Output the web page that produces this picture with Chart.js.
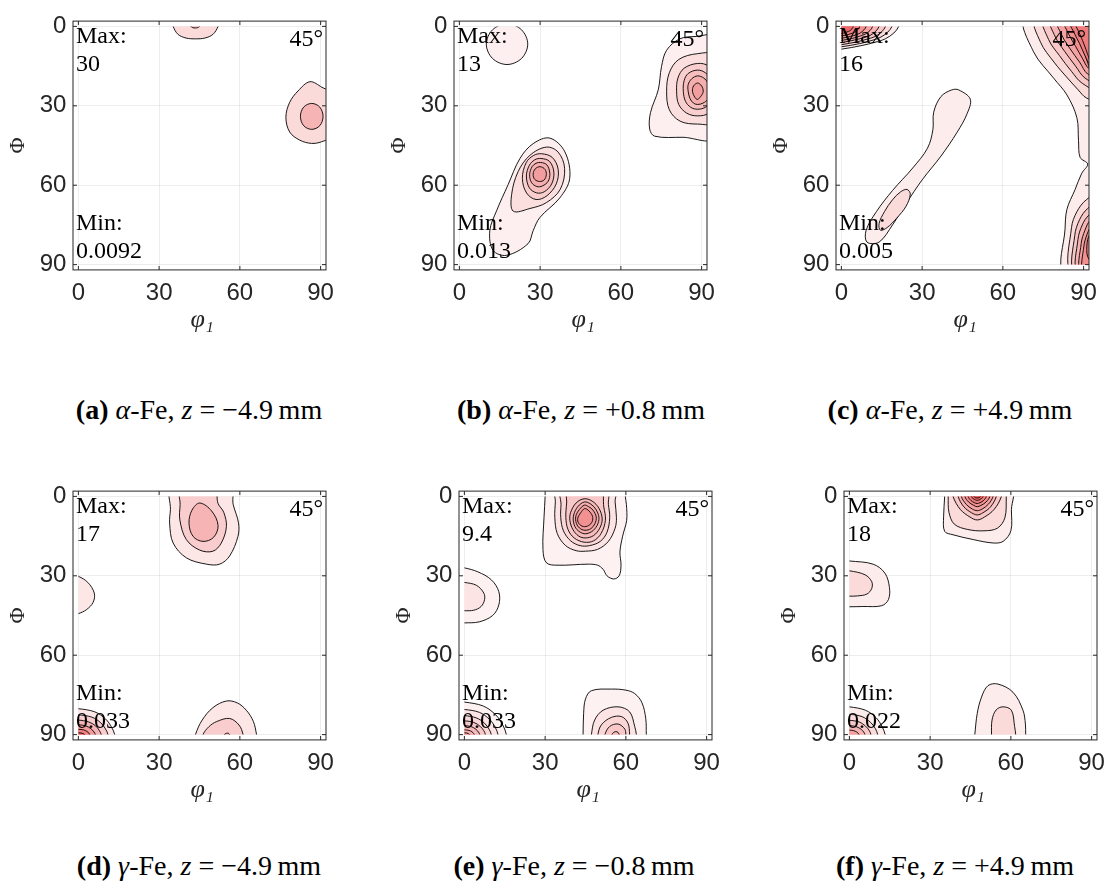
<!DOCTYPE html>
<html>
<head>
<meta charset="utf-8">
<script src="https://cdn.jsdelivr.net/npm/chart.js@4.4.1/dist/chart.umd.min.js"></script>
<style>
  body { margin: 0; background: #fff; width: 1106px; height: 886px; overflow: hidden; position: relative; }
  canvas { position: absolute; }
  .cap { position: absolute; width: 400px; text-align: center; font-family: "Liberation Serif", serif;
         font-size: 28px; line-height: 30px; color: #000; white-space: nowrap; }
</style>
</head>
<body>
<script>
// ODF sections at phi2 = 45 deg, six samples

const tickValues = [0, 30, 60, 90];
const panelNames = ["a", "b", "c", "d", "e", "f"];
const phases = ["α", "α", "α", "γ", "γ", "γ"];
const zValues = ["−4.9", "+0.8", "+4.9", "−4.9", "−0.8", "+4.9"];
const maxValues = ["30", "13", "16", "17", "9.4", "18"];
const minValues = ["0.0092", "0.013", "0.005", "0.033", "0.033", "0.022"];
const sectionLabel = "45°";

// contour rings: [level, [phi1, Phi, phi1, Phi, ...]]
const ringsA = [
  [1, [34.5,-3, 35.2,0, 37,3, 40,4.4, 43.5,4.7, 47,4.4, 50,3, 51.9,0, 52.5,-3]],
  [2, [41.5,-3, 41.8,0, 43.4,0.6, 45,0, 45.3,-3]],
  [1, [86,20.9, 81.6,24.4, 78.5,28.7, 77.1,34.3, 78.5,39.9, 82.3,43, 86.6,44.2, 90.3,43.6, 95,41, 95,26, 90.5,23]],
  [2, [86.7,29.1, 89.7,30.5, 90.9,34, 89.7,37.5, 86.7,38.9, 83.7,37.5, 82.5,34, 83.7,30.5]]
];
const ringsB = [
  [1, [17.7,-1, 23.1,1.3, 25.4,6.7, 23.1,12.1, 17.7,14.4, 12.3,12.1, 10,6.7, 12.3,1.3]],
  [1, [81.9,4.7, 77,9, 75.1,15.2, 73.9,23.9, 71,32.6, 70.7,38.8, 72.6,41.5, 83.1,41.9, 95,41.9, 95,4, 88,3.8]],
  [2, [88.5,10.3, 81.5,12.5, 78,17.5, 77,24.5, 78,31.5, 82,35.8, 88.5,36.9, 95,36, 95,11]],
  [3, [88.5,14, 83.5,15.8, 81.2,19.5, 80.7,24.5, 81.5,29.5, 84.5,32.8, 88.5,33.8, 92.5,32.8, 95,28, 95,20, 92.5,15]],
  [4, [88.5,16.5, 85,17.8, 83.5,20.5, 83.2,24.5, 84,28.3, 86,30.6, 88.5,31.3, 91.5,30.5, 93.5,28, 94.5,24.5, 93.5,20.5, 91.5,17.6]],
  [5, [88.5,18.7, 86.3,19.8, 85,22, 85,24.5, 85.7,27.3, 87,29, 88.5,29.5, 90.5,29, 92.3,27.5, 93,24.5, 92.3,21.3, 90.8,19.5]],
  [6, [88.5,21.4, 87,22.5, 86.6,24.5, 87.5,26.8, 88.5,27.6, 90,26, 90.6,24.5, 90,22.5]],
  [1, [33.6,42.2, 39.2,47.4, 41,57.4, 37.3,64.8, 29.9,72.2, 27.4,77.2, 25.5,82.1, 17.5,86.5, 12.5,84.6, 11.3,77.2, 13.8,69.7, 18.1,59.8, 22.5,49.9, 27.4,44.3]],
  [2, [32.3,45.6, 36.7,47.5, 39.1,53.6, 37.5,61.5, 32.3,66.6, 26.2,68.8, 20,69.8, 19.4,63.6, 21.8,54.9, 26.2,48.7]],
  [3, [30.5,48.1, 34.5,49.5, 36.7,54, 36,59.5, 32.5,64, 28.5,65.4, 25,63, 23.4,57.5, 24.8,51.5, 27.5,48.8]],
  [4, [30.3,49.9, 33.5,51, 35.1,55, 34.3,59.5, 31.5,62.5, 28.7,62.9, 26,61, 24.9,56.5, 26,52.5, 28,50.4]],
  [5, [30.2,51.4, 32.5,52.3, 33.6,55.5, 33,58.5, 30.8,60.3, 28.8,60.5, 26.8,59, 26.1,56, 27,53, 28.5,51.7]],
  [6, [30,53, 31.8,54, 32.3,56, 31.5,58, 29.8,58.6, 28,57.8, 27.4,55.8, 28.2,53.8]]
];
const ringsC = [
  [1, [-3,8.7, 0,8.6, 7.7,7.2, 12.5,6, 16.3,4.7, 19.5,2.5, 21.3,0, 22,-3, -3,-3]],
  [2, [-3,7.8, 0,7.7, 6.8,6.5, 11,5.4, 14.4,4.2, 17.2,2.2, 18.8,0, 19.4,-3, -3,-3]],
  [3, [-3,7, 0,6.9, 5.9,5.8, 9.6,4.8, 12.6,3.8, 15,2, 16.4,0, 17,-3, -3,-3]],
  [4, [-3,6.2, 0,6.1, 5,5.1, 8.2,4.3, 10.7,3.4, 12.8,1.8, 14,0, 14.5,-3, -3,-3]],
  [5, [-3,5.4, 0,5.3, 4.2,4.5, 6.8,3.7, 8.9,2.9, 10.6,1.6, 11.6,0, 12,-3, -3,-3]],
  [6, [-3,4.6, 0,4.5, 3.3,3.8, 5.4,3.2, 7,2.5, 8.4,1.3, 9.2,0, 9.5,-3, -3,-3]],
  [7, [-3,3.7, 0,3.6, 2.5,3.1, 4,2.6, 5.2,2, 6.2,1.1, 6.8,0, 7,-3, -3,-3]],
  [8, [-3,2.8, 0,2.7, 1.6,2.3, 2.6,1.9, 3.4,1.5, 4,0.8, 4.4,0, 4.6,-3, -3,-3]],
  [1, [43.6,24, 47.9,27.5, 46.7,33, 43,40, 37,49, 30,58, 24,67, 19,75, 14,81.5, 9.5,81.5, 9.2,77, 13,70, 19,62, 26.5,53.5, 32,46, 34,39, 34.3,32.4, 37,26.5, 41,24]],
  [2, [24.4,61.6, 25.6,63.4, 24,68, 20.5,72.5, 17,76, 14.5,77, 14,74.5, 16,70, 19,65.5, 22,62.5]],
  [1, [68.3,-3, 71.4,9.6, 78.9,19.6, 83.8,25.9, 87.5,34.5, 88.1,43.2, 88.7,49.5, 91.5,52, 89.3,55.5, 86.8,61.7, 83.8,69.1, 83.1,76.6, 82.5,93, 96,93, 96,-3]],
  [2, [72.1,-3, 74,6, 79,13.5, 84,19.5, 88,24, 91,27, 96,28, 96,-3]],
  [3, [75.2,-3, 77,5, 81,11, 85.5,17, 89.5,21.5, 96,24, 96,-3]],
  [4, [77.7,-3, 79.5,4, 83,9.5, 87,15, 90.5,19.5, 96,21.5, 96,-3]],
  [5, [80.1,-3, 82,3.5, 85,8.5, 88.5,13.5, 91.5,18, 96,19.5, 96,-3]],
  [6, [82.6,-3, 84.5,3, 87,7.5, 89.5,12, 92,16, 96,17.5, 96,-3]],
  [7, [84.5,-3, 86.5,2.5, 88.5,6.5, 90.5,11, 92.5,14.5, 96,15.5, 96,-3]],
  [2, [96,63, 91,65.5, 87.5,70, 85.5,76, 85.1,93, 96,93]],
  [3, [96,66.5, 91.5,68.8, 88.5,73, 86.7,79, 86.4,93, 96,93]],
  [4, [96,69.5, 92,71.3, 89.5,75, 87.9,80.5, 87.6,93, 96,93]],
  [5, [96,71.5, 92.5,73.2, 90.5,77, 89.1,82, 88.8,93, 96,93]],
  [6, [96,73.5, 93,75.2, 91.3,78.5, 90.1,83, 89.8,93, 96,93]],
  [7, [96,77, 92.5,78.3, 91.2,83, 92,88, 96,89]]
];
const ringsD = [
  [1, [34.6,-3, 34.2,5, 33.9,10.1, 35.2,17.6, 40.1,23.2, 47.6,25.6, 52.5,25.6, 56.2,22.5, 59.3,15.1, 59.5,10, 57.5,3, 56.5,-3]],
  [2, [38,-3, 37.8,3, 37.7,8.9, 40.1,16.3, 45.1,20.3, 50,20.7, 53.1,17.6, 55,11.4, 54,6, 51.9,2.7, 50.5,-3]],
  [3, [45.1,2.5, 49.5,5.5, 51.9,11, 50.2,15.5, 46.3,17, 42.6,15.1, 41.1,10.1, 42.2,5.2]],
  [1, [-3,29.5, 0,30.2, 3.5,32.5, 5.9,36.5, 5.5,40, 3,42.8, 0,44.3, -3,45]],
  [1, [-3,80.2, 0,80.2, 6.1,81.4, 10.1,84.1, 12.4,87.3, 13.5,90, 14,93, -3,93]],
  [2, [-3,82.5, 0,82.5, 5,83.4, 8.3,85.5, 10.1,87.9, 11,90, 11.4,93, -3,93]],
  [3, [-3,84.5, 0,84.5, 3.8,85.2, 6.4,86.7, 7.8,88.5, 8.5,90, 8.8,93, -3,93]],
  [4, [-3,86.3, 0,86.3, 2.8,86.7, 4.7,87.8, 5.8,89, 6.3,90, 6.5,93, -3,93]],
  [5, [-3,88, 0,88, 1.9,88.2, 3.2,88.8, 3.9,89.4, 4.2,90, 4.4,93, -3,93]],
  [6, [-3,89.3, 0,89.3, 1,89.4, 1.7,89.6, 2.1,89.8, 2.3,90, 2.4,93, -3,93]],
  [1, [43.2,93, 43.5,90, 46,84.5, 50,79.8, 55,77.3, 59,78, 62.4,80.8, 65,85, 66.2,90, 66.5,93]],
  [2, [46,93, 46.3,90, 48.5,87, 51.3,85.1, 56.2,83.9, 59.7,86.4, 61.2,90, 61.4,93]],
  [3, [53.5,93, 54,90.3, 55,89.5, 56,89.7, 56.8,93]]
];
const ringsE = [
  [1, [30,-3, 30,0, 29.6,7.7, 29.2,20.1, 30.5,25.1, 34.8,26, 46,25.6, 49.5,26, 51.5,27.5, 53,30, 55.5,31.2, 57.5,30, 58.2,26, 57.8,21, 58.8,15, 60.3,9, 60.2,3, 59.8,0, 60,-3]],
  [2, [34,-3, 33.8,2, 33.6,8, 34.5,14, 37.5,18.5, 41.5,20.5, 45,20.7, 49.5,20, 53.5,17, 56,12, 56.5,8, 56,2, 56,-3]],
  [3, [36,-3, 35.9,3, 35.8,8, 36.8,13, 39.5,16.8, 43,18.6, 46.5,18.6, 50.5,17, 53,13.5, 54,8, 53.5,3, 53,-3]],
  [4, [38.5,-3, 38,2.5, 37.7,8, 38.5,12.5, 40.8,15.7, 44.5,17.3, 48,16.8, 50.8,14, 52.4,9, 51.8,4, 50.5,-3]],
  [5, [44.5,0.9, 41.5,2.5, 39.5,6, 39.2,9, 40.3,12.5, 42.5,15, 45,15.7, 48,14.8, 50.3,12, 51.2,8.5, 50,4.5, 47.5,1.8]],
  [6, [44.6,2.1, 42.2,3.8, 40.6,7, 40.6,10, 41.8,12.5, 44.5,14.1, 47.3,13.3, 49.3,11, 50,8, 48.8,4.8, 46.8,2.8]],
  [7, [44.6,3.3, 42.7,5, 41.4,7.5, 41.6,10.2, 42.8,12, 44.8,12.8, 47,12.2, 48.5,10.3, 49,7.8, 47.8,5.2, 46.2,3.9]],
  [8, [44.7,4.6, 43.2,6.2, 42.1,8.3, 42.5,10.2, 44.2,11.4, 46.2,11, 47.5,9.5, 47.6,7.5, 46.3,5.5]],
  [1, [-3,26.7, 0,27, 5,28.5, 10,31.5, 12.8,36, 12.8,41, 10.5,45, 5.5,47.4, 0,47.8, -3,47.9]],
  [2, [-3,32.3, 0,32.5, 4.5,33.6, 7.2,36.5, 7.5,39, 6.2,41.6, 3.5,43, 0,43.2, -3,43.2]],
  [1, [-3,77.7, 0,77.7, 7,79.2, 11.7,82.6, 14.4,86.6, 15.6,90, 16,93, -3,93]],
  [2, [-3,80.5, 0,80.5, 5.6,81.6, 9.4,84.3, 11.5,87.3, 12.5,90, 12.9,93, -3,93]],
  [3, [-3,82.8, 0,82.8, 4.5,83.7, 7.5,85.7, 9.2,88, 10,90, 10.3,93, -3,93]],
  [4, [-3,84.8, 0,84.8, 3.5,85.4, 5.9,86.9, 7.2,88.5, 7.8,90, 8,93, -3,93]],
  [5, [-3,86.6, 0,86.6, 2.6,87, 4.3,88, 5.2,89, 5.7,90, 5.9,93, -3,93]],
  [6, [-3,88.2, 0,88.2, 1.7,88.4, 2.8,88.9, 3.4,89.5, 3.7,90, 3.8,93, -3,93]],
  [7, [-3,89.3, 0,89.3, 0.9,89.4, 1.4,89.6, 1.7,89.8, 1.9,90, 2,93, -3,93]],
  [1, [44,93, 44.1,90, 44.3,82, 45,76.5, 47.2,73.4, 54.6,72.8, 60,73.2, 63.3,74.5, 66,78, 67.4,84, 67.6,90, 67.8,93]],
  [2, [47,93, 47.2,90, 48.4,84.5, 51.5,80.8, 57.1,79.5, 61.4,81.4, 63.3,87, 63.9,90, 64,93]],
  [3, [49.5,93, 49.6,90, 50.9,86.3, 54.6,83.5, 58.4,83.2, 60.8,85.7, 61.4,90, 61.5,93]],
  [4, [52,93, 52.2,90, 54,86.9, 57.1,86, 59.6,87.9, 60,90, 60.2,93]],
  [5, [54.3,93, 54.8,90, 56,88.9, 57.3,89.4, 57.8,93]]
];
const ringsF = [
  [1, [35.3,-3, 35.4,0, 35,7.7, 35.4,13.2, 38.5,14.5, 46,16.3, 53.4,17.6, 57.1,17, 60,13, 60.2,5, 60.2,-3]],
  [2, [36.7,-3, 36.7,0, 37,6, 39,10.5, 44,12.5, 50,13, 55,12, 57.8,8, 58.3,0, 58.3,-3]],
  [3, [38.5,-3, 38.5,0, 41.2,4.9, 44.8,7.8, 47.5,8.9, 50.2,7.8, 53.8,4.9, 56.5,0, 56.5,-3]],
  [4, [40.4,-3, 40.4,0, 42.5,3.9, 45.4,6.2, 47.5,7, 49.6,6.2, 52.5,3.9, 54.6,0, 54.6,-3]],
  [5, [41.6,-3, 41.6,0, 43.4,3, 45.7,4.8, 47.5,5.4, 49.3,4.8, 51.6,3, 53.4,0, 53.4,-3]],
  [6, [42.9,-3, 42.9,0, 44.3,2.1, 46.2,3.4, 47.5,3.9, 48.9,3.4, 50.8,2.1, 52.2,0, 52.2,-3]],
  [7, [44.1,-3, 44.1,0, 45.1,1.5, 46.5,2.4, 47.5,2.7, 48.5,2.4, 49.9,1.5, 50.9,0, 50.9,-3]],
  [8, [45.3,-3, 45.3,0, 46.1,0.9, 47.5,1.5, 48.9,0.9, 49.7,0, 49.7,-3]],
  [9, [46.3,-3, 46.3,0, 47.5,0.6, 48.7,0, 48.7,-3]],
  [1, [-3,24.3, 0,24.4, 8.8,25.6, 13.2,29, 14.9,34.5, 14.5,39, 12,41.3, 5,41.6, 0,41.7, -3,41.7]],
  [2, [-3,28, 0,28.1, 5.8,29.6, 8.3,32.2, 8.3,34.8, 6.5,36.9, 3,37.6, 0,37.7, -3,37.7]],
  [1, [-3,79.5, 0,79.5, 6,80.8, 10,83.7, 12.2,87.1, 13.3,90, 13.6,93, -3,93]],
  [2, [-3,82.3, 0,82.3, 4.7,83.2, 7.9,85.4, 9.7,87.8, 10.5,90, 10.8,93, -3,93]],
  [3, [-3,84.6, 0,84.6, 3.6,85.2, 6,86.8, 7.4,88.5, 8,90, 8.2,93, -3,93]],
  [4, [-3,86.6, 0,86.6, 2.6,87, 4.4,88, 5.3,89, 5.8,90, 6,93, -3,93]],
  [5, [-3,88.3, 0,88.3, 1.6,88.5, 2.7,89, 3.3,89.5, 3.6,90, 3.7,93, -3,93]],
  [1, [46.3,93, 46.6,90, 47.5,82, 49.1,75.8, 51.5,71.5, 55.2,70.9, 60.8,74, 64.5,80.8, 65.4,86, 65.5,90, 65.6,93]],
  [2, [52.7,93, 52.8,90, 53,84.5, 54.5,80.7, 57.1,79.5, 60.2,80.8, 61.4,87, 61.8,90, 61.9,93]]
];
const allRings = [ringsA, ringsB, ringsC, ringsD, ringsE, ringsF];
const levelStep = [0.15, 0.065, 0.075, 0.1, 0.055, 0.075];

// layout: top-left corner of each plot box, box is 253 px for -2..92 deg
const frames = [[73, 17], [454, 17], [836, 17], [73, 487], [459, 487], [844, 487]];
const captionPos = [[199, 410], [581, 410], [950, 410], [199, 866], [574, 866], [955, 866]];
const UNIT = 253 / 94;
const CW = 340, CH = 345;

// white -> red colormap
function levelColor(t) {
  const r = Math.round(255 - 30 * t);
  const gb = Math.round(255 - 250 * t);
  return `rgb(${r},${gb},${gb})`;
}

// close every contour ring into a smooth loop
const loopPlugin = {
  id: "loopRings",
  afterDatasetsUpdate(chart) {
    chart.getSortedVisibleDatasetMetas().forEach((meta) => {
      meta.dataset._loop = true;
      meta.dataset._fullLoop = true;
    });
  }
};

// box, inward ticks and the Max/Min/45° notes
const framePlugin = {
  id: "frameNotes",
  afterDatasetsDraw(chart, args, opts) {
    const { ctx } = chart;
    const x = chart.scales.x, y = chart.scales.y;
    const l = x.getPixelForValue(-2), r = x.getPixelForValue(92);
    const t = y.getPixelForValue(-2), b = y.getPixelForValue(92);
    const i = opts.index;
    ctx.save();
    ctx.strokeStyle = "#262626";
    ctx.lineWidth = 1;
    ctx.strokeRect(l, t, r - l, b - t);
    ctx.beginPath();
    tickValues.forEach((v) => {
      const px = x.getPixelForValue(v), py = y.getPixelForValue(v);
      ctx.moveTo(px, b); ctx.lineTo(px, b - 4);
      ctx.moveTo(px, t); ctx.lineTo(px, t + 4);
      ctx.moveTo(l, py); ctx.lineTo(l + 4, py);
      ctx.moveTo(r, py); ctx.lineTo(r - 4, py);
    });
    ctx.stroke();

    ctx.fillStyle = "#000";
    ctx.font = '24px "Liberation Serif"';
    ctx.textBaseline = "alphabetic";
    ctx.textAlign = "left";
    ctx.fillText("Max:", l + 3, t + 21.5);
    ctx.fillText(maxValues[i], l + 3, t + 50);
    ctx.fillText("Min:", l + 3, b - 40);
    ctx.fillText(minValues[i], l + 3, b - 12);
    ctx.textAlign = "right";
    ctx.fillText(sectionLabel, r - 3, t + 25);
    ctx.restore();
  }
};

const tickFont = { family: "Liberation Sans", size: 24 };

panelNames.forEach((name, i) => {
  const [bx, by] = frames[i];
  const canvas = document.createElement("canvas");
  canvas.width = CW;
  canvas.height = CH;
  canvas.style.left = bx - 73 + "px";
  canvas.style.top = by - 17 + "px";
  document.body.appendChild(canvas);

  const datasets = allRings[i].map(([level, coords]) => {
    const pts = [];
    for (let k = 0; k < coords.length; k += 2) pts.push({ x: coords[k], y: coords[k + 1] });
    return {
      data: pts,
      order: -level,
      fill: "shape",
      backgroundColor: levelColor(level * levelStep[i]),
      borderColor: "#000",
      borderWidth: 0.9,
      tension: 0.35,
      pointRadius: 0
    };
  });

  new Chart(canvas, {
    type: "line",
    data: { datasets },
    options: {
      responsive: false,
      animation: false,
      devicePixelRatio: 1,
      events: [],
      elements: { line: { capBezierPoints: false } },
      layout: { padding: { left: 0, top: 2 * UNIT + 17, right: CW - 326, bottom: 0 } },
      plugins: {
        legend: { display: false },
        tooltip: { enabled: false },
        frameNotes: { index: i }
      },
      scales: {
        x: {
          type: "linear",
          min: 0,
          max: 92,
          afterBuildTicks: (s) => { s.ticks = tickValues.map((v) => ({ value: v })); },
          afterFit: (s) => {
            s.height = CH - (17 + 92 * UNIT);
            s.paddingLeft = 0;
            s.paddingRight = 0;
          },
          ticks: { font: tickFont, color: "#262626", padding: 14, maxRotation: 0, autoSkip: false },
          grid: { color: "rgba(0,0,0,0.07)", drawTicks: false },
          border: { display: false },
          title: {
            display: true, text: "φ₁", color: "#262626",
            font: { family: "Liberation Serif", size: 26, style: "italic" },
            padding: { top: 0, bottom: 9 }
          }
        },
        y: {
          type: "linear",
          reverse: true,
          min: 0,
          max: 90,
          afterBuildTicks: (s) => { s.ticks = tickValues.map((v) => ({ value: v })); },
          afterFit: (s) => { s.width = 73 + 2 * UNIT; },
          ticks: { font: tickFont, color: "#262626", padding: 12, autoSkip: false },
          grid: { color: "rgba(0,0,0,0.07)", drawTicks: false },
          border: { display: false },
          title: {
            display: true, text: "Φ", color: "#262626",
            font: { family: "Liberation Serif", size: 22 },
            padding: { top: 5, bottom: 0 }
          }
        }
      }
    },
    plugins: [loopPlugin, framePlugin]
  });

  // sub-caption
  const cap = document.createElement("div");
  cap.className = "cap";
  cap.style.left = captionPos[i][0] - 200 + "px";
  cap.style.top = captionPos[i][1] - 15 + "px";
  cap.innerHTML = `<b>(${name})</b> <i>${phases[i]}</i>-Fe, <i>z</i> = ${zValues[i]}&#8201;mm`;
  document.body.appendChild(cap);
});
</script>
</body>
</html>
